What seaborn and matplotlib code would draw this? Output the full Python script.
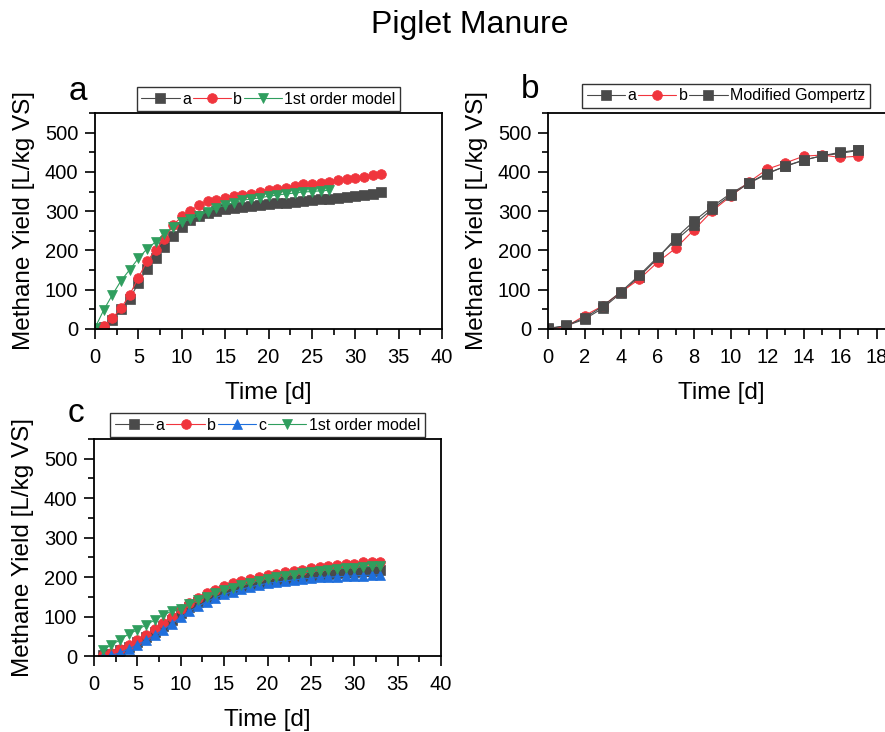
import numpy as np
import pandas as pd
import matplotlib
matplotlib.use("Agg")
import matplotlib.pyplot as plt
import seaborn as sns
from matplotlib.ticker import MultipleLocator

# ---------------- data ----------------
# Panel a
a_days_a = list(range(0, 34))
a_a = [0, 6, 22, 51, 77, 117, 154, 180, 210, 236, 259, 278, 287, 295, 301, 306,
       308, 311, 313, 316, 318, 320, 322, 324, 326, 328, 330, 332, 334, 337, 339,
       342, 345, 350]
a_days_b = list(range(1, 34))
a_b = [8, 27, 53, 87, 131, 172, 202, 229, 264, 287, 300, 317, 325, 329, 334, 338,
       341, 345, 349, 355, 357, 360, 363, 368, 369, 372, 375, 380, 382, 384, 387,
       391, 394]
a_days_m = list(range(0, 28))
a_model = [3, 48, 87, 123, 151, 180, 204, 222, 242, 259, 272, 280, 289, 299, 308,
           315, 321, 328, 331, 334, 338, 341, 344, 346, 349, 350, 352, 353]

# Panel b
b_days = list(range(0, 18))
b_a = [2, 8, 25, 53, 92, 133, 180, 232, 275, 312, 345, 372, 397, 414, 430, 441, 447, 455]
b_b = [0, 6, 34, 59, 94, 127, 170, 206, 253, 301, 338, 374, 407, 423, 440, 443, 437, 440]
b_gompertz = [0, 9, 28, 58, 95, 137, 183, 226, 266, 306, 341, 371, 395, 415, 430, 441, 450, 456]

# Panel c
c_days = list(range(1, 34))
c_a = [2, 6, 14, 24, 36, 48, 62, 76, 92, 108, 124, 137, 148, 157, 164, 171, 177,
       182, 186, 190, 193, 196, 199, 202, 204, 206, 208, 210, 212, 213, 215, 216, 218]
c_b = [2, 7, 17, 28, 41, 53, 68, 83, 100, 118, 134, 146, 159, 168, 178, 184, 189,
       195, 201, 206, 208, 212, 215, 218, 223, 225, 228, 230, 233, 234, 237, 239, 239]
c_c = [0, 2, 8, 18, 28, 40, 53, 67, 82, 98, 113, 126, 138, 148, 156, 163, 169,
       175, 180, 184, 187, 190, 193, 195, 197, 199, 200, 201, 202, 203, 204, 205, 206]
c_model = [15, 28, 41, 56, 66, 79, 91, 104, 114, 118, 131, 142, 150, 159, 168, 173,
           180, 184, 191, 195, 200, 204, 206, 210, 213, 216, 218, 221, 222, 224, 226,
           227, 228]

GRAY = "#4a4a4a"
RED = "#f0353d"
GREEN = "#2f9e5e"
BLUE = "#1f6fdc"

sns.set_style("ticks")
plt.rcParams['font.family'] = ['Liberation Sans', 'DejaVu Sans']
plt.rcParams['text.color'] = 'black'
plt.rcParams['axes.labelcolor'] = 'black'
plt.rcParams['xtick.color'] = 'black'
plt.rcParams['ytick.color'] = 'black'

W, H = 885, 732
fig = plt.figure(figsize=(W / 100, H / 100), dpi=100)


def px_axes(left, top, width, height):
    return fig.add_axes([left / W, 1 - (top + height) / H, width / W, height / H])


def draw(ax, x, y, label, color, marker, ms=7):
    sns.lineplot(x=x, y=y, ax=ax, color=color, marker=marker, markersize=ms,
                 markeredgecolor=color, markeredgewidth=0.5, linewidth=0.8,
                 label=label, estimator=None, sort=False)


def style(ax, xmax, xmaj, xmin):
    ax.set_xlim(0, xmax)
    ax.set_ylim(0, 550)
    ax.xaxis.set_major_locator(MultipleLocator(xmaj))
    ax.xaxis.set_minor_locator(MultipleLocator(xmin))
    ax.yaxis.set_major_locator(MultipleLocator(100))
    ax.yaxis.set_minor_locator(MultipleLocator(50))
    ax.set_yticks([0, 100, 200, 300, 400, 500])
    ax.tick_params(which='major', direction='out', length=7, width=1.2,
                   labelsize=14.5, color='black', labelcolor='black')
    ax.tick_params(axis='x', which='major', pad=6.5)
    ax.tick_params(axis='y', which='major', pad=5)
    ax.tick_params(which='minor', direction='out', length=4, width=1.2, color='black')
    ax.tick_params(top=False, right=False, which='both')
    for s in ax.spines.values():
        s.set_visible(True)
        s.set_color('black')
        s.set_linewidth(1.3)
    ax.set_xlabel("Time [d]", fontsize=17.5, labelpad=11)
    ax.set_ylabel("Methane Yield [L/kg VS]", fontsize=17.5)
    ax.yaxis.set_label_coords(-0.172, 0.5)
    ax.grid(False)


def legend(ax, ncol, xc, pad):
    leg = ax.legend(loc='lower center', bbox_to_anchor=(xc, 1.0), ncol=ncol,
                    fontsize=11.5, frameon=True, fancybox=False, edgecolor='black',
                    handlelength=2.4, handletextpad=0.15, columnspacing=0.1,
                    borderpad=0.3, borderaxespad=pad)
    leg.get_frame().set_linewidth(1.0)


# Panel a
ax_a = px_axes(95, 113, 347, 216)
draw(ax_a, a_days_a, a_a, "a", GRAY, "s")
draw(ax_a, a_days_b, a_b, "b", RED, "o")
draw(ax_a, a_days_m, a_model, "1st order model", GREEN, "v")
style(ax_a, 40, 5, 2.5)
legend(ax_a, 3, 0.5, 0.1)

# Panel b
ax_b = px_axes(548, 113, 347, 216)
draw(ax_b, b_days, b_a, "a", GRAY, "s")
draw(ax_b, b_days, b_b, "b", RED, "o")
draw(ax_b, b_days, b_gompertz, "Modified Gompertz", GRAY, "s")
style(ax_b, 19, 2, 1)
legend(ax_b, 3, 0.513, 0.3)

# Panel c
ax_c = px_axes(94, 439, 347, 217)
draw(ax_c, c_days, c_a, "a", GRAY, "s")
draw(ax_c, c_days, c_b, "b", RED, "o")
draw(ax_c, c_days, c_c, "c", BLUE, "^")
draw(ax_c, c_days, c_model, "1st order model", GREEN, "v")
style(ax_c, 40, 5, 2.5)
legend(ax_c, 4, 0.5, 0.1)

# Panel letters and title
fig.text(470 / W, 1 - 25 / H, "Piglet Manure", fontsize=23, ha='center', va='center')
fig.text(78 / W, 1 - 92 / H, "a", fontsize=24, ha='center', va='center')
fig.text(530 / W, 1 - 89 / H, "b", fontsize=24, ha='center', va='center')
fig.text(76 / W, 1 - 414 / H, "c", fontsize=24, ha='center', va='center')

fig.savefig("out.png", dpi=100)
